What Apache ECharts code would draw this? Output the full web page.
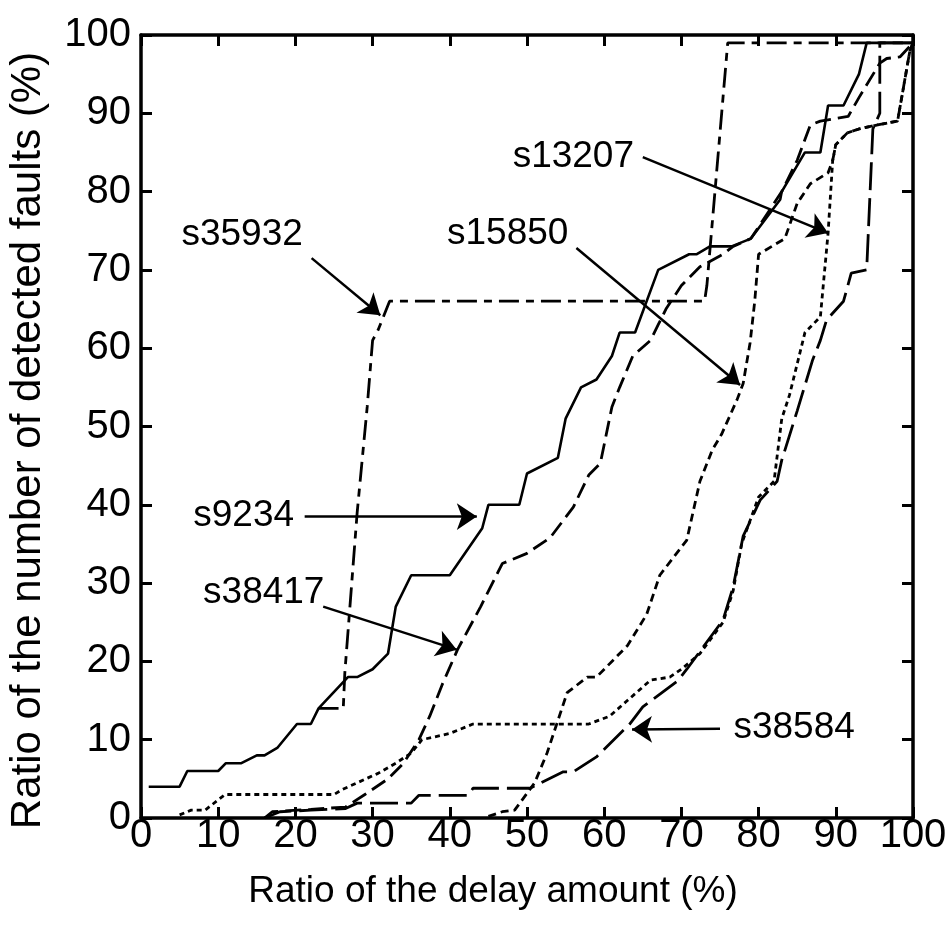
<html>

<head>
  <title>detected faults vs delay amount</title>
  <meta charset="utf-8">
  <script src="https://cdn.jsdelivr.net/npm/echarts@6/dist/echarts.min.js"></script>
  <style>
    html,
    body {
      width: 100%;
      height: 100%;
      margin: 0;
      background: #fff;
    }

    #chart {
      width: 945px;
      height: 941px;
    }
  </style>
</head>

<body>
  <div id="chart"></div>
  <script>
    // curves, [delay ratio %, detected faults %]
    var s9234 = [[1, 4], [5, 4], [6, 6], [10, 6], [11, 7], [13, 7], [15, 8], [16, 8], [17.7, 9], [20.2, 12], [22, 12],
      [23, 14], [26.8, 18], [28, 18], [30, 19], [32, 21], [33, 27], [35, 31], [40, 31], [44.2, 37], [45, 40], [49, 40],
      [50, 44], [54, 46], [55, 51], [57, 55], [59, 56], [61, 59], [62, 62], [64, 62], [67, 70], [71, 72], [72, 72],
      [73.7, 73], [76.5, 73], [79, 74], [82.8, 79], [83, 80], [86, 85], [88, 85], [89, 91], [91, 91], [93, 95],
      [94, 99], [100, 99]];
    var s35932 = [[23, 14], [26.2, 14], [26.4, 18.5], [28, 39], [29.3, 52.5], [30, 61], [30.7, 62.3], [32.2, 66],
      [73, 66], [73.3, 68], [76, 99], [100, 99]];
    var s38417 = [[16, 0], [17, 0.8], [22, 1.1], [26.5, 1.4], [29, 3], [32, 5], [34, 7], [36, 10], [37.4, 13],
      [39, 17], [41, 21.5], [44, 27], [46.8, 32.5], [50, 33.8], [53, 35.8], [56, 39.7], [58, 43.8], [59.5, 45.3],
      [61, 52.5], [62, 55], [63.7, 59], [66, 61], [67, 63], [68, 65], [70, 68], [72.4, 70.4], [75.4, 72],
      [76.7, 73], [79, 74], [83, 80], [85, 84], [86.7, 88.5], [88, 89], [91.6, 89.6], [93, 92], [95.7, 96.4],
      [96.6, 97], [98.3, 97.2], [100, 99]];
    var s13207 = [[5, 0.4], [6.5, 1], [8.3, 1], [10.9, 3], [25, 3], [26, 3.6], [30.7, 5.7], [33, 7], [35, 8.3],
      [36.4, 10], [40, 10.8], [43, 12], [58, 12], [60.7, 13], [63, 15], [66, 17.6], [68.5, 18], [70, 19],
      [72.4, 21], [75.4, 25], [76.7, 29], [77.8, 35], [80, 41], [82, 43], [83, 51], [84, 54], [86, 62], [88, 64],
      [89, 74.7], [89.6, 84], [90, 86], [91.5, 87.5], [93, 88], [95.3, 88.5], [98, 89], [99.6, 98], [100, 99]];
    var s15850 = [[45, 0.2], [46.8, 0.8], [48.4, 1], [51, 4.5], [52.6, 8.3], [55.2, 16], [57.8, 18], [59, 18],
      [63, 22], [65.5, 26], [67.2, 31], [70.7, 35.5], [72.4, 43], [74, 47], [75.2, 49], [77.2, 53.4], [78, 55.5],
      [78.9, 60.7], [79.5, 66], [80, 72], [83.4, 74], [85, 78.5], [86.7, 81], [89, 82.4], [89.6, 84], [90, 86],
      [91.5, 87.5], [93, 88], [95.3, 88.5], [98, 89], [99.6, 98], [100, 99]];
    var s38584 = [[16, 0], [18, 0.8], [22, 1], [26.5, 1.2], [28, 1.9], [35, 1.9], [36, 2.9], [42.4, 2.9], [43, 3.8],
      [50.4, 3.8], [54.7, 5.9], [56, 5.9], [59, 7.8], [63.3, 12], [65, 14.2], [69.5, 17.5], [70.7, 19],
      [75.4, 25.3], [76.7, 29.5], [78, 36], [80.2, 40.6], [82.4, 43], [83, 45.7], [85, 52], [87, 58.5], [88, 61],
      [88.8, 63.6], [91, 66], [92, 69.6], [94, 70], [94.8, 88], [95.7, 90], [95.7, 99], [100, 99]];

    // callouts: label, label centre, arrow tail, arrow head (data units)
    var noteNames = ['s35932', 's13207', 's15850', 's9234', 's38417', 's38584'];
    var notePos = [[13.1, 74.5], [56, 84.4], [47.5, 74.6], [13.3, 38.6], [15.9, 28.7], [84.6, 11.5]];
    var arrowFrom = [[22.1, 71.5], [65, 84.4], [56.4, 72.8], [21.2, 38.5], [23.6, 27], [75, 11.4]];
    var arrowTo = [[31, 64.2], [89, 74.7], [77.6, 55.3], [43.5, 38.5], [40.9, 21.5], [63.6, 11.3]];

    var FONT = 'Liberation Sans, Arial, sans-serif';
    var myChart = echarts.init(document.getElementById('chart'));

    function curve(name, data, dash, width) {
      return {
        name: name,
        type: 'line',
        data: data,
        symbol: 'none',
        silent: true,
        lineStyle: {
          color: '#000',
          width: width,
          type: dash
        }
      };
    }

    var arrowData = noteNames.map(function (n, i) {
      return [{ coord: arrowFrom[i] }, { coord: arrowTo[i] }];
    });
    var textData = noteNames.map(function (n, i) {
      return { value: notePos[i], name: n };
    });

    var frameAxis = {
      type: 'value',
      min: 0,
      max: 100,
      interval: 10,
      axisLine: { show: true, onZero: false, lineStyle: { color: '#000', width: 3.5 } },
      axisTick: { show: true, inside: true, length: 11, lineStyle: { color: '#000', width: 3 } },
      splitLine: { show: false }
    };

    var option = {
      backgroundColor: '#fff',
      animation: false,
      grid: { left: 141, right: 32, top: 35, bottom: 123, containLabel: false, outerBoundsMode: 'none' },
      xAxis: [
        Object.assign({}, frameAxis, {
          position: 'bottom',
          name: 'Ratio of the delay amount (%)',
          nameLocation: 'middle',
          nameGap: 55,
          nameTextStyle: { fontFamily: FONT, fontSize: 37, color: '#000', padding: [0, 68, 0, 0] },
          axisLabel: { fontFamily: FONT, fontSize: 40, color: '#000', margin: -2 }
        }),
        Object.assign({}, frameAxis, { position: 'top', axisLabel: { show: false } })
      ],
      yAxis: [
        Object.assign({}, frameAxis, {
          position: 'left',
          name: 'Ratio of the number of detected faults (%)',
          nameLocation: 'middle',
          nameGap: 92,
          nameTextStyle: { fontFamily: FONT, fontSize: 42, color: '#000', padding: [0, 28, 0, 0] },
          axisLabel: { fontFamily: FONT, fontSize: 40, color: '#000', margin: 10 }
        }),
        Object.assign({}, frameAxis, { position: 'right', axisLabel: { show: false } })
      ],
      series: [
        curve('s9234', s9234, 'solid', 2.6),
        curve('s35932', s35932, [20, 7, 8, 7], 2.8),
        curve('s38417', s38417, [16, 7], 2.8),
        curve('s13207', s13207, [5, 4], 2.8),
        curve('s15850', s15850, [8, 5], 2.8),
        curve('s38584', s38584, [28, 8], 2.8),
        {
          type: 'scatter',
          silent: true,
          symbolSize: 0,
          itemStyle: { opacity: 1, color: '#000' },
          data: textData,
          label: {
            show: true,
            position: 'inside',
            formatter: '{b}',
            fontFamily: FONT,
            fontSize: 37,
            color: '#000',
            opacity: 1,
            textBorderWidth: 0,
            textBorderColor: 'transparent'
          },
          markLine: {
            silent: true,
            symbol: ['none', 'arrow'],
            symbolSize: 20,
            label: { show: false },
            lineStyle: { color: '#000', width: 2.5, type: 'solid', opacity: 1 },
            data: arrowData
          }
        }
      ]
    };
    myChart.setOption(option);
  </script>
</body>

</html>
